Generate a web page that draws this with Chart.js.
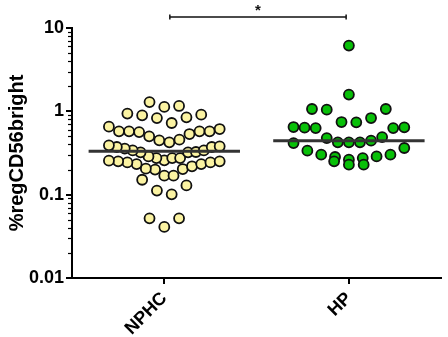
<!DOCTYPE html>
<html>
<head>
<meta charset="utf-8">
<script src="https://cdn.jsdelivr.net/npm/chart.js@4.4.0/dist/chart.umd.min.js"></script>
<style>
  html, body { margin: 0; padding: 0; background: #fff; }
  #wrap { position: relative; width: 448px; height: 337px; }
</style>
</head>
<body>
<div id="wrap"><canvas id="dotplot" width="448" height="337"></canvas></div>
<script>
const groups = ["NPHC", "HP"];

// %regCD56bright per subject
const nphcValues = [
  1.29, 1.13, 1.16,
  0.94, 0.895, 0.83, 0.847, 0.913, 0.724,
  0.613, 0.575, 0.575, 0.534, 0.457, 0.425, 0.449, 0.501, 0.564, 0.575, 0.575, 0.655,
  0.380, 0.373, 0.340, 0.322, 0.325, 0.275, 0.275, 0.258, 0.275, 0.288, 0.322, 0.340, 0.357, 0.373, 0.391,
  0.256, 0.251, 0.244, 0.233, 0.203, 0.200, 0.169, 0.169, 0.205, 0.219, 0.233, 0.244, 0.251,
  0.151, 0.112, 0.101, 0.129,
  0.052, 0.041, 0.052
];
const hpValues = [
  6.15, 1.59,
  1.066, 1.048, 1.066, 0.744, 0.738, 0.831,
  0.648, 0.637, 0.630, 0.630, 0.643,
  0.491, 0.445, 0.425, 0.416, 0.363, 0.425, 0.425, 0.478,
  0.302, 0.288, 0.275, 0.251, 0.229, 0.229, 0.263, 0.283, 0.302, 0.337
];

const yTickValues = [0.01, 0.1, 1, 10];
const yTickLabels = ["0.01", "0.1", "1", "10"];
const yTitle = "%regCD56bright";
const sigLabel = "*";

// dot layout (prism style rows), in axis units
const BIN = 0.21, BIN_EDGE = -0.5895, STEP = 0.08, MAX_SPREAD = 0.6, HALF_LINE = 0.41;

function swarm(values, center) {
  const rows = {};
  values.forEach(v => {
    const k = Math.floor((Math.log10(v) - BIN_EDGE) / BIN);
    (rows[k] = rows[k] || []).push(v);
  });
  const pts = [];
  Object.values(rows).forEach(row => {
    row.sort((a, b) => a - b);
    const n = row.length;
    const step = n > 1 ? Math.min(STEP, MAX_SPREAD / (n - 1)) : 0;
    row.forEach((v, i) => {
      let slot;
      if (n % 2) slot = i === 0 ? 0 : (i % 2 ? 1 : -1) * Math.ceil(i / 2);
      else slot = (i % 2 ? -1 : 1) * (Math.floor(i / 2) + 0.5);
      pts.push({ x: center + slot * step, y: v });
    });
  });
  return pts;
}

const median = (arr) => {
  const s = [...arr].sort((a, b) => a - b);
  const m = Math.floor(s.length / 2);
  return s.length % 2 ? s[m] : (s[m - 1] + s[m]) / 2;
};

const medianLine = (values, center) => [
  { x: center - HALF_LINE, y: median(values) },
  { x: center + HALF_LINE, y: median(values) }
];

const FONT = "'Liberation Sans', Arial, sans-serif";

// small ticks between decades on the log axis
const minorTicks = {
  id: "minorTicks",
  afterDraw(chart) {
    const y = chart.scales.y, ctx = chart.ctx;
    const x0 = chart.chartArea.left;
    ctx.save();
    ctx.strokeStyle = "#000";
    ctx.lineWidth = 1.2;
    const lo = Math.log10(yTickValues[0]), hi = Math.log10(yTickValues[yTickValues.length - 1]);
    for (let e = lo; e < hi; e++) {
      for (let m = 2; m < 10; m++) {
        const py = Math.round(y.getPixelForValue(m * Math.pow(10, e))) + 0.5;
        ctx.beginPath();
        ctx.moveTo(x0 - 4, py);
        ctx.lineTo(x0, py);
        ctx.stroke();
      }
    }
    ctx.restore();
  }
};

// significance bar between the two groups
const sigBracket = {
  id: "sigBracket",
  afterDraw(chart) {
    const x = chart.scales.x, ctx = chart.ctx;
    const x1 = x.getPixelForValue(1.03), x2 = x.getPixelForValue(1.985);
    const by = chart.chartArea.top - 11;
    ctx.save();
    ctx.strokeStyle = "#111";
    ctx.lineWidth = 1.5;
    ctx.beginPath();
    ctx.moveTo(x1, by); ctx.lineTo(x2, by);
    ctx.moveTo(x1, by - 2.5); ctx.lineTo(x1, by + 2.5);
    ctx.moveTo(x2, by - 2.5); ctx.lineTo(x2, by + 2.5);
    ctx.stroke();
    ctx.fillStyle = "#111";
    ctx.font = "bold 15px " + FONT;
    ctx.textAlign = "center";
    ctx.textBaseline = "middle";
    ctx.fillText(sigLabel, (x1 + x2) / 2, by - 6);
    ctx.restore();
  }
};

const ctx = document.getElementById("dotplot");

new Chart(ctx, {
  type: "scatter",
  data: {
    datasets: [
      {
        data: medianLine(nphcValues, 1),
        type: "line",
        borderColor: "#333333",
        borderWidth: 3,
        pointRadius: 0,
        order: 0
      },
      {
        data: medianLine(hpValues, 2),
        type: "line",
        borderColor: "#333333",
        borderWidth: 3,
        pointRadius: 0,
        order: 0
      },
      {
        label: groups[0],
        data: swarm(nphcValues, 1),
        backgroundColor: "#fbf3a2",
        borderColor: "#111111",
        borderWidth: 1.8,
        pointRadius: 5,
        order: 1
      },
      {
        label: groups[1],
        data: swarm(hpValues, 2),
        backgroundColor: "#08c008",
        borderColor: "#111111",
        borderWidth: 1.8,
        pointRadius: 5,
        order: 1
      }
    ]
  },
  options: {
    responsive: false,
    animation: false,
    layout: { padding: { top: 28, right: 2, left: 0, bottom: 0 } },
    plugins: {
      legend: { display: false },
      tooltip: { enabled: false }
    },
    scales: {
      x: {
        type: "linear",
        min: 0.5,
        max: 2.5,
        afterBuildTicks: (scale) => {
          scale.ticks = groups.map((g, i) => ({ value: i + 1 }));
        },
        afterFit: (scale) => { scale.height = 59; },
        ticks: {
          autoSkip: false,
          minRotation: 45,
          maxRotation: 45,
          padding: 4,
          color: "#000",
          font: { family: FONT, size: 18, weight: "bold" },
          callback: (value) => groups[value - 1]
        },
        grid: { drawOnChartArea: false, drawTicks: true, tickLength: 6, color: "#000", lineWidth: 2 },
        border: { display: true, color: "#000", width: 2 }
      },
      y: {
        type: "logarithmic",
        min: yTickValues[0],
        max: yTickValues[yTickValues.length - 1],
        afterBuildTicks: (scale) => {
          scale.ticks = yTickValues.map(v => ({ value: v }));
        },
        afterFit: (scale) => { scale.width = 72; },
        ticks: {
          color: "#000",
          padding: 2,
          font: { family: FONT, size: 18, weight: "bold" },
          callback: (value) => yTickLabels[yTickValues.indexOf(value)]
        },
        title: {
          display: true,
          text: yTitle,
          color: "#000",
          padding: { top: 5, bottom: 0 },
          font: { family: FONT, size: 20, weight: "bold" }
        },
        grid: { drawOnChartArea: false, drawTicks: true, tickLength: 6, color: "#000", lineWidth: 2 },
        border: { display: true, color: "#000", width: 2 }
      }
    }
  },
  plugins: [minorTicks, sigBracket]
});
</script>
</body>
</html>
